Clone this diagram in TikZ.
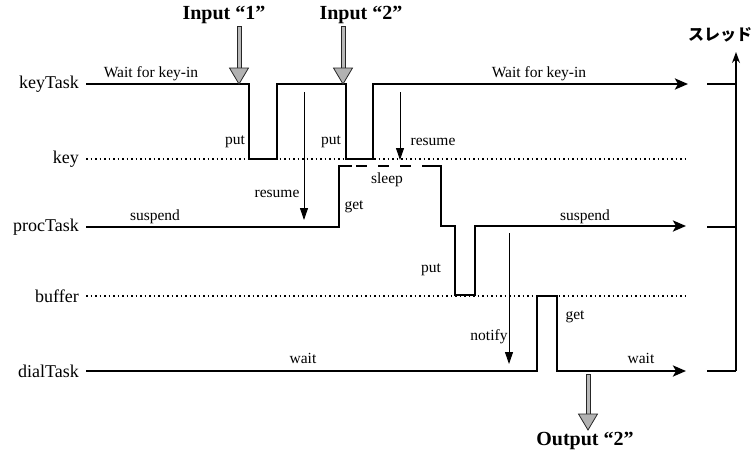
\documentclass[tikz,border=0pt]{standalone}
\usepackage{fontspec}
\setmainfont{Liberation Serif}
\newfontfamily\cjk{Noto Sans CJK JP}
\usetikzlibrary{arrows.meta,calc}
\begin{document}
\begin{tikzpicture}[x=1pt,y=-1pt,
  sig/.style={line width=2.6pt, line join=miter, line cap=butt},
  sigarrow/.style={sig, -{Stealth[length=13pt,width=11pt,inset=3pt]}},
  dotline/.style={line width=1.5pt, dash pattern=on 1.5pt off 3pt},
  evarrow/.style={line width=0.9pt, -{Triangle[length=12pt,width=8pt]}},
  bigshaft/.style={line width=5pt, draw=gray!30!black},
  bigshaftin/.style={line width=3pt, draw=gray!55},
  bighead/.style={fill=gray!60, draw=gray!30!black, line width=0.8pt, line join=miter},
  axisarrow/.style={line width=1.2pt, -{Stealth[length=11pt,width=8pt]}},
  tick/.style={line width=1.6pt},
  lbl/.style={font=\fontsize{18}{20}\selectfont, anchor=east, inner sep=0pt},
  small/.style={font=\fontsize{15.5}{17}\selectfont, inner sep=0pt},
  io/.style={font=\bfseries\fontsize{20}{22}\selectfont, inner sep=0pt}]
\useasboundingbox (0,0) rectangle (753,453);

% row labels
\node[lbl] (lkey1) at (79,84) {keyTask};
\node[lbl] (lkey)  at (79,159) {key};
\node[lbl] (lproc) at (79,227) {procTask};
\node[lbl] (lbuf)  at (79,296) {buffer};
\node[lbl] (ldial) at (79,371) {dialTask};

% dotted resource lines
\coordinate (ks) at (86,159); \coordinate (ke) at (688,159);
\coordinate (bs) at (86,296); \coordinate (be) at (688,296);
\draw[dotline] (ks) -- (ke);
\draw[dotline] (bs) -- (be);

% keyTask
\draw[sigarrow] (86,84) -- (249,84) -- (249,159) -- (277,159) -- (277,84)
  -- (346,84) -- (346,159) -- (373,159) -- (373,84) -- (688,84);

% procTask
\draw[sig] (86,227) -- (339,227) -- (339,166) -- (352,166);
\draw[sig, dash pattern=on 11pt off 11pt] (356,166) -- (428,166);
\draw[sigarrow] (428,166) -- (441,166) -- (441,226) -- (455,226) -- (455,295)
  -- (475,295) -- (475,226) -- (686,226);

% dialTask
\draw[sigarrow] (86,371) -- (537,371) -- (537,296) -- (557,296) -- (557,371) -- (686,371);

% event arrows
\coordinate (r1a) at (304,92);  \coordinate (r1b) at (304,220);
\coordinate (r2a) at (400,92);  \coordinate (r2b) at (400,160);
\coordinate (nfa) at (509,233); \coordinate (nfb) at (509,364);
\draw[evarrow] (r1a) -- (r1b);
\draw[evarrow] (r2a) -- (r2b);
\draw[evarrow] (nfa) -- (nfb);

% labels on the chart
\node[small] (t1) at (151,74) {Wait for key-in};
\node[small] (t2) at (539,74) {Wait for key-in};
\node[small] (t3) at (155,217) {suspend};
\node[small] (t4) at (585,217) {suspend};
\node[small] (t5) at (303,358) {wait};
\node[small] (t6) at (641,358) {wait};
\node[small] (p1) at (235,142) {put};
\node[small] (p2) at (331,142) {put};
\node[small] (rs2) at (433,142) {resume};
\node[small] (sl) at (387,180) {sleep};
\node[small] (rs1) at (277,194) {resume};
\node[small] (g1) at (354,207) {get};
\node[small] (p3) at (431,270) {put};
\node[small] (nf) at (489,337) {notify};
\node[small] (g2) at (575,317) {get};

% input / output
\node[io] (in1) at (224,15) {Input “1”};
\node[io] (in2) at (361,15) {Input “2”};
\node[io] (out) at (585,441) {Output “2”};
\coordinate (i1a) at (239,26); \coordinate (i1b) at (239,84);
\coordinate (i2a) at (343,26); \coordinate (i2b) at (343,84);
\coordinate (oa) at (588,374); \coordinate (ob) at (588,430);
\foreach \a/\b in {i1a/i1b, i2a/i2b, oa/ob} {
  \draw[bigshaft] (\a) -- ($(\b)+(0,-14)$);
  \draw[bigshaftin] ($(\a)+(0,0.8)$) -- ($(\b)+(0,-13)$);
  \filldraw[bighead] ($(\b)+(-9.5,-16)$) -- ($(\b)+(9.5,-16)$) -- (\b) -- cycle;
}

% thread axis
\node[font=\cjk\bfseries\fontsize{16}{18}\selectfont, inner sep=0pt] (thr) at (720,35) {スレッド};
\coordinate (ax0) at (736,371); \coordinate (ax1) at (736,52);
\draw[axisarrow] (ax0) -- (ax1);
\draw[tick] (707,84) -- (736,84);
\draw[tick] (707,227) -- (736,227);
\draw[tick] (707,371) -- (736,371);
\end{tikzpicture}
\end{document}
